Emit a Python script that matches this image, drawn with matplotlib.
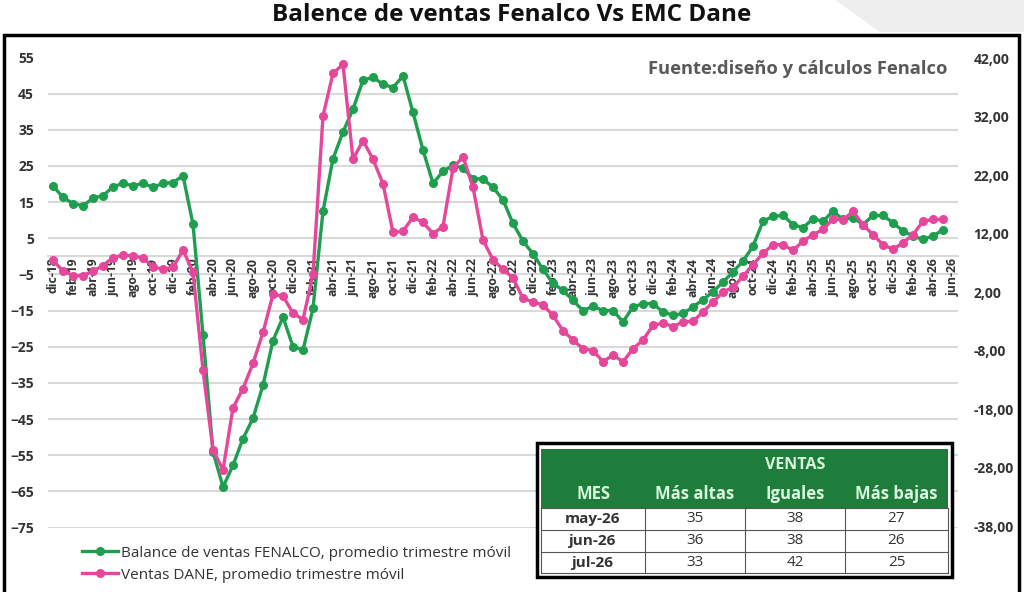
import matplotlib
matplotlib.use("Agg")
import matplotlib.pyplot as plt
from matplotlib.patches import Rectangle, Polygon
from matplotlib.lines import Line2D

plt.rcParams['font.family'] = ['Open Sans', 'DejaVu Sans']

# Meses: dic-18 ... jun-26 (91 categorias, etiqueta cada 2 meses)
meses_nombres = ['ene', 'feb', 'mar', 'abr', 'may', 'jun', 'jul', 'ago', 'sep', 'oct', 'nov', 'dic']
meses = ['dic-18'] + [f"{m}-{a:02d}" for a in range(19, 27) for m in meses_nombres][:90]

# Balance de ventas FENALCO (eje izquierdo)
fenalco = [19.5, 16.3, 14.6, 14.0, 16.1, 16.8, 19.2, 20.2, 19.5, 20.2, 19.1, 20.2, 20.4, 22.3, 8.9,
           -21.7, -54.0, -63.8, -57.8, -50.4, -44.8, -35.6, -23.3, -16.8, -25.0, -25.9, -14.4,
           12.5, 27.0, 34.4, 40.7, 48.7, 49.5, 47.6, 46.7, 49.9, 39.8, 29.4, 20.2, 23.5, 25.2,
           24.4, 21.5, 21.4, 19.1, 15.6, 9.1, 4.2, 0.7, -3.6, -7.5, -9.4, -12.2, -15.0, -13.8,
           -15.0, -15.0, -18.1, -14.0, -13.1, -13.1, -15.4, -16.3, -15.8, -14.0, -12.0, -9.8,
           -7.1, -4.3, -1.3, 2.8, 9.7, 11.1, 11.3, 8.8, 7.9, 10.4, 9.7, 12.5, 10.2, 10.7, 8.8,
           11.3, 11.3, 9.3, 7.0, 5.6, 4.7, 5.6, 7.4]

# Ventas DANE (eje derecho)
dane = [7.4, 5.6, 4.8, 4.8, 5.6, 6.5, 7.9, 8.3, 8.2, 7.8, 6.3, 5.9, 6.2, 9.2, 5.4,
        -11.4, -25.0, -28.4, -17.8, -14.5, -10.2, -4.9, 1.6, 1.3, -1.6, -2.7, 5.0,
        32.1, 39.4, 40.9, 24.7, 27.9, 24.7, 20.5, 12.2, 12.4, 14.8, 13.9, 12.0, 13.2, 23.2,
        25.1, 19.9, 10.9, 7.5, 5.9, 4.4, 0.9, 0.3, -0.2, -2.0, -4.6, -6.2, -7.7, -8.0,
        -9.9, -8.8, -9.9, -7.7, -6.2, -3.7, -3.3, -3.9, -3.1, -3.0, -1.4, 0.3,
        2.0, 2.8, 4.7, 6.7, 8.6, 10.1, 10.1, 9.1, 10.7, 11.8, 12.7, 14.5, 14.3, 15.8, 13.5,
        11.8, 10.1, 9.3, 10.4, 11.8, 14.1, 14.4, 14.4]

# Tabla de ventas
tabla_mes = ['may-26', 'jun-26', 'jul-26']
mas_altas = [35, 36, 33]
iguales = [38, 38, 42]
mas_bajas = [27, 26, 25]

verde = '#1f9e4f'
rosa = '#e5479a'
texto = '#333333'

fig = plt.figure(figsize=(10.24, 5.92), dpi=100)
W, H = 1024, 592

def fx(px):
    return px / W

def fy(py):
    return 1 - py / H

# adorno gris arriba a la derecha
fig.patches.append(Polygon([(fx(835), fy(0)), (fx(1024), fy(0)), (fx(1024), fy(32)), (fx(880), fy(32))],
                           closed=True, transform=fig.transFigure, facecolor='#eeeeee', edgecolor='none'))

# titulo
fig.text(0.5, fy(15), 'Balence de ventas Fenalco Vs EMC Dane', ha='center', va='center',
         fontsize=17.5, fontweight='bold', color='#111111')

# marco negro
fig.patches.append(Rectangle((fx(4), fy(600)), fx(1015), fy(35) - fy(600), transform=fig.transFigure,
                             fill=False, edgecolor='black', linewidth=2.5))

ax = fig.add_axes([fx(48), fy(527.5), fx(958 - 48), fy(57.5) - fy(527.5)])
ax.set_xlim(-0.5, 90.5)
ax.set_ylim(-75, 55)
ax.set_yticks(range(55, -76, -10))
for v in range(55, -76, -10):
    ax.axhline(v, color='#d9d9d9', linewidth=1.5, zorder=0)
for s in ['top', 'right', 'left']:
    ax.spines[s].set_visible(False)
ax.spines['bottom'].set_position(('data', 0))
ax.spines['bottom'].set_color('#d9d9d9')
ax.spines['bottom'].set_linewidth(1.5)

x = list(range(len(meses)))
ax.plot(x[:len(fenalco)], fenalco, color=verde, linewidth=2.4, marker='o', markersize=5.5, zorder=3, clip_on=False)
ax.set_xticks(x[::2])
ax.set_xticklabels(meses[::2], rotation=90, fontsize=8.8, fontweight='bold', color=texto)
ax.tick_params(axis='x', length=0, pad=1)
ax.tick_params(axis='y', length=0, pad=10, labelsize=10, labelcolor=texto)
for lab in ax.get_yticklabels():
    lab.set_fontweight('bold')

ax2 = ax.twinx()
ax2.set_ylim(-38.25, 42.09)
ax2.set_yticks(range(42, -39, -10))
ax2.set_yticklabels([f"{v},00" for v in range(42, -39, -10)])
for s in ['top', 'right', 'left', 'bottom']:
    ax2.spines[s].set_visible(False)
ax2.tick_params(axis='y', length=0, pad=11, labelsize=10, labelcolor=texto)
for lab in ax2.get_yticklabels():
    lab.set_fontweight('bold')
ax2.plot(x[:len(dane)], dane, color=rosa, linewidth=2.4, marker='o', markersize=5.5, zorder=4, clip_on=False)

# fuente
fig.text(fx(948), fy(69), 'Fuente:diseño y cálculos Fenalco', ha='right', va='center',
         fontsize=13.2, fontweight='bold', color='#595959')

# leyenda
handles = [Line2D([], [], color=verde, linewidth=2.4, marker='o', markersize=5.5),
           Line2D([], [], color=rosa, linewidth=2.4, marker='o', markersize=5.5)]
fig.legend(handles, ['Balance de ventas FENALCO, promedio trimestre móvil',
                     'Ventas DANE, promedio trimestre móvil'],
           loc='upper left', bbox_to_anchor=(fx(74), fy(538)), frameon=False, fontsize=11,
           handlelength=2.4, handletextpad=0.15, labelspacing=0.45, labelcolor=texto, borderpad=0)

# tabla
verde_tabla = '#1f7d3c'
cols = [541, 645, 745, 845, 948]
filas = [508, 530, 552, 573]
fig.patches.append(Rectangle((fx(537), fy(577)), fx(952 - 537), fy(443) - fy(577), transform=fig.transFigure,
                             facecolor='white', edgecolor='black', linewidth=2.5, zorder=5))
fig.patches.append(Rectangle((fx(541), fy(508)), fx(948 - 541), fy(449) - fy(508), transform=fig.transFigure,
                             facecolor=verde_tabla, edgecolor='none', zorder=6))
for yy in filas:
    fig.add_artist(Line2D([fx(541), fx(948)], [fy(yy), fy(yy)], color='#555555', linewidth=0.8, zorder=7))
for xx in cols:
    fig.add_artist(Line2D([fx(xx), fx(xx)], [fy(508), fy(573)], color='#555555', linewidth=0.8, zorder=7))

cab = '#d9f7dc'
fig.text(fx(795), fy(465), 'VENTAS', ha='center', va='center', fontsize=11.5, fontweight='bold', color=cab, zorder=8)
encabezados = ['MES', 'Más altas', 'Iguales', 'Más bajas']
for i, h in enumerate(encabezados):
    fig.text(fx((cols[i] + cols[i + 1]) / 2), fy(494), h, ha='center', va='center',
             fontsize=12, fontweight='bold', color=cab, zorder=8)
for r in range(len(tabla_mes)):
    yc = fy((filas[r] + filas[r + 1]) / 2)
    valores = [tabla_mes[r], mas_altas[r], iguales[r], mas_bajas[r]]
    for c, val in enumerate(valores):
        fig.text(fx((cols[c] + cols[c + 1]) / 2), yc, str(val), ha='center', va='center',
                 fontsize=11, fontweight='bold' if c == 0 else 'normal', color=texto, zorder=8)

fig.savefig('out.png', dpi=100, facecolor='white')
